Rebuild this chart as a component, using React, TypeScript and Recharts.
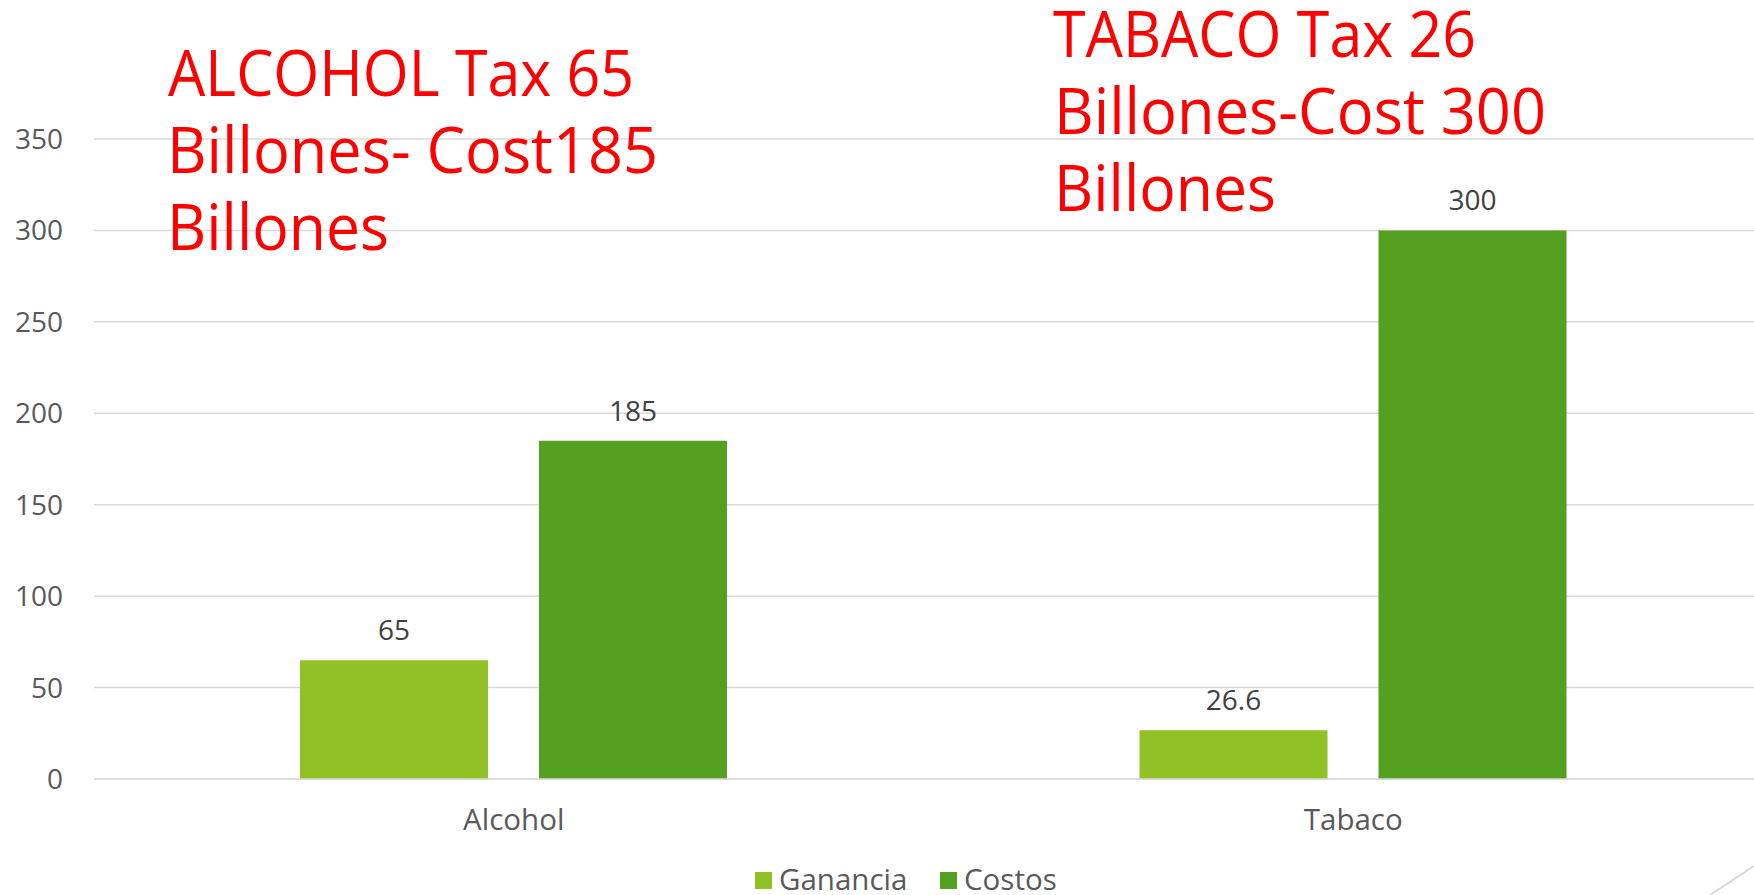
import React from 'react';
import { BarChart, Bar, XAxis, YAxis, CartesianGrid, Legend, LabelList } from 'recharts';

const categories = ['Alcohol', 'Tabaco'];
const ganancia = [65, 26.6];
const costos = [185, 300];
const yTicks = [0, 50, 100, 150, 200, 250, 300, 350];
const seriesNames = ['Ganancia', 'Costos'];
const seriesColors = ['#90C226', '#54A021'];
const alcoholNote = ['ALCOHOL Tax 65', 'Billones- Cost185', 'Billones'];
const tabacoNote = ['TABACO Tax 26', 'Billones-Cost 300', 'Billones'];

const data = categories.map((c, i) => ({ name: c, Ganancia: ganancia[i], Costos: costos[i] }));

const FONT = "'Open Sans', 'Noto Sans', sans-serif";

const XTick = (props: any) => {
  const { x, y, payload } = props;
  return (
    <text x={x} y={y + 51} textAnchor="middle" fill="#595959" fontSize={29.5} fontFamily={FONT}>
      {payload.value}
    </text>
  );
};

const LegendContent = () => {
  const items = [
    { sq: 755, tx: 779 },
    { sq: 940, tx: 964 },
  ];
  return (
    <svg width={1754} height={56} style={{ display: 'block', overflow: 'visible' }}>
      {seriesNames.map((n, i) => (
        <g key={n}>
          <rect x={items[i].sq} y={33} width={17} height={17} fill={seriesColors[i]} />
          <text x={items[i].tx} y={51} fill="#595959" fontSize={29.5} fontFamily={FONT}>
            {n}
          </text>
        </g>
      ))}
    </svg>
  );
};

const noteLayout = [
  { lines: alcoholNote, xs: [168, 167, 167], ys: [96, 173, 250], lens: [466, 491, 222] },
  { lines: tabacoNote, xs: [1053, 1054, 1054], ys: [57, 134, 211], lens: [423, 492, 222] },
];

export default function App() {
  return (
    <div style={{ position: 'fixed', left: 0, top: 0, width: 1754, height: 895, overflow: 'hidden', background: '#fff' }}>
      <BarChart
        width={1780}
        height={895}
        data={data}
        margin={{ top: 139, right: 7, left: 0, bottom: 0 }}
        barSize={188}
        barGap={51}
      >
        <CartesianGrid vertical={false} stroke="#D9D9D9" strokeWidth={1.5} />
        <XAxis
          dataKey="name"
          height={60}
          axisLine={{ stroke: '#D9D9D9', strokeWidth: 1.5 }}
          tickLine={false}
          tickSize={0}
          tickMargin={0}
          tick={<XTick />}
        />
        <YAxis
          width={94}
          domain={[0, 350]}
          ticks={yTicks}
          axisLine={false}
          tickLine={false}
          tickSize={0}
          tickMargin={31}
          tick={{ fill: '#595959', fontSize: 28, fontFamily: FONT }}
        />
        <Legend verticalAlign="bottom" height={56} content={<LegendContent />} />
        {seriesNames.map((n, i) => (
          <Bar key={n} dataKey={n} fill={seriesColors[i]} isAnimationActive={false}>
            <LabelList dataKey={n} position="top" offset={20} fill="#404040" fontSize={28} fontFamily={FONT} />
          </Bar>
        ))}
      </BarChart>
      <svg width={1754} height={895} style={{ position: 'absolute', left: 0, top: 0, pointerEvents: 'none' }}>
        {noteLayout.map((note, j) =>
          note.lines.map((t, k) => (
            <text
              key={`${j}-${k}`}
              x={note.xs[k]}
              y={note.ys[k]}
              fill="#FF0000"
              fontSize={64}
              fontFamily={FONT}
              textLength={note.lens[k]}
              lengthAdjust="spacingAndGlyphs"
            >
              {t}
            </text>
          ))
        )}
        <line x1={1710} y1={895} x2={1754} y2={866} stroke="#D9D9D9" strokeWidth={2} />
      </svg>
    </div>
  );
}
